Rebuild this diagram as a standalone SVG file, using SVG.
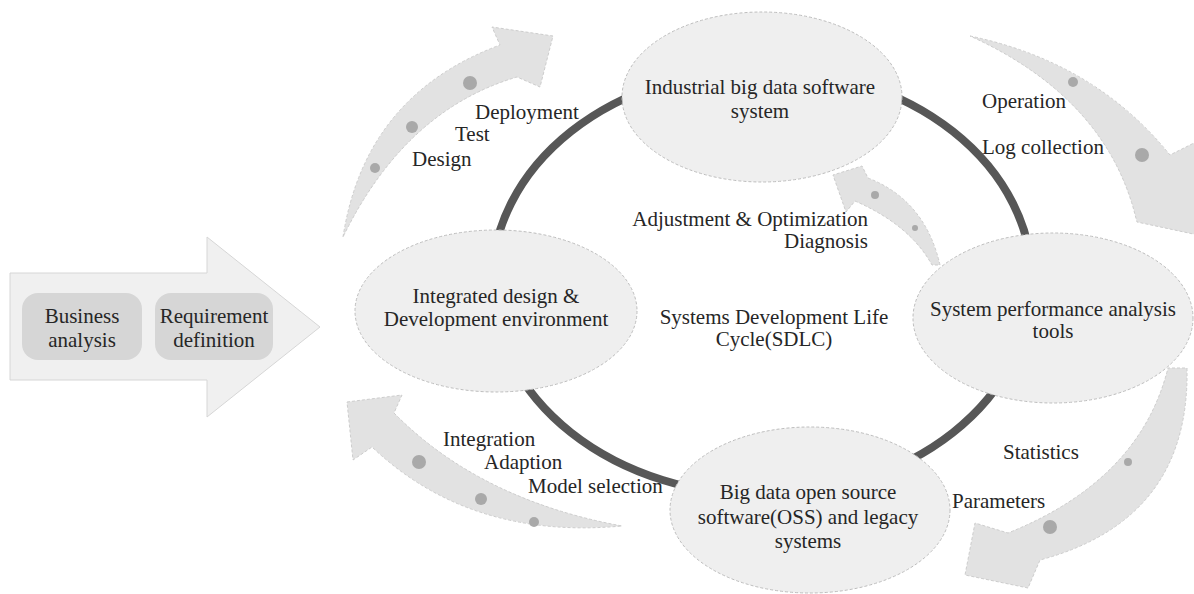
<svg xmlns="http://www.w3.org/2000/svg" width="1194" height="594" viewBox="0 0 1194 594">
  <style>
    text { font-family: "Liberation Serif", "Times New Roman", serif; font-size: 21px; fill: #262626; }
    .mid { text-anchor: middle; }
    .end { text-anchor: end; }
    .node { fill: #efefef; stroke: #bdbdbd; stroke-width: 1; stroke-dasharray: 3 2; }
    .band { fill: #e2e2e2; stroke: #cdcdcd; stroke-width: 1; stroke-dasharray: 3 2; }
    .dot { fill: #a9a9a9; }
    .box { fill: #d6d6d6; }
  </style>

  <rect width="1194" height="594" fill="#ffffff"/>

  <!-- lifecycle ring behind the nodes -->
  <g id="connectors">
    <ellipse id="sdlc-ring" cx="762" cy="282" rx="270" ry="213" fill="none" stroke="#575757" stroke-width="8"/>

    <!-- design / test / deployment -->
    <g id="arrow-deploy">
      <path class="band" d="M343,237 Q365,95 500,45 L492,27 L553,36 L540,87 L517,77 Q405,110 343,237 Z"/>
      <circle class="dot" cx="470" cy="83" r="7"/>
      <circle class="dot" cx="412" cy="127" r="6"/>
      <circle class="dot" cx="375" cy="168" r="5"/>
    </g>

    <!-- operation / log collection -->
    <g id="arrow-operation">
      <path class="band" d="M970,36 Q1095,62 1170,155 L1200,140 L1212,238 L1137,222 L1133,207 Q1100,95 970,36 Z"/>
      <circle class="dot" cx="1073" cy="82" r="5"/>
      <circle class="dot" cx="1142" cy="155" r="7"/>
    </g>

    <!-- diagnosis / adjustment -->
    <g id="arrow-diagnosis">
      <path class="band" d="M940,265 Q925,200 868,178 L862,166 L833,175 L846,212 L855,201 Q910,225 932,265 Z"/>
      <circle class="dot" cx="875" cy="195" r="4"/>
      <circle class="dot" cx="915" cy="228" r="3"/>
    </g>

    <!-- statistics / parameters -->
    <g id="arrow-statistics">
      <path class="band" d="M1187,368 Q1190,520 1040,560 L1028,588 L965,575 L975,523 L1008,533 Q1140,480 1168,368 Z"/>
      <circle class="dot" cx="1128" cy="462" r="4"/>
      <circle class="dot" cx="1050" cy="527" r="7"/>
    </g>

    <!-- integration / adaption / model selection -->
    <g id="arrow-integration">
      <path class="band" d="M347,402 L402,395 L394,413 Q480,500 622,526 Q470,540 372,447 L353,460 Z"/>
      <circle class="dot" cx="419" cy="462" r="7"/>
      <circle class="dot" cx="481" cy="499" r="6"/>
      <circle class="dot" cx="534" cy="522" r="5"/>
    </g>
  </g>

  <!-- front-end phases -->
  <g id="phase-arrow">
    <polygon points="10,273 207,273 207,237 320,327 207,417 207,380 10,380" fill="#f0f0f0" stroke="#d6d6d6" stroke-width="1"/>
    <g id="business-analysis">
      <rect class="box" x="22" y="293" width="120" height="67" rx="16"/>
      <text class="mid" x="82" y="323">Business</text>
      <text class="mid" x="82" y="347">analysis</text>
    </g>
    <g id="requirement-definition">
      <rect class="box" x="155" y="293" width="118" height="67" rx="16"/>
      <text class="mid" x="214" y="323">Requirement</text>
      <text class="mid" x="214" y="347">definition</text>
    </g>
  </g>

  <g id="node-industrial">
    <ellipse class="node" cx="762" cy="97" rx="140" ry="85"/>
    <text class="mid" x="760" y="94">Industrial big data software</text>
    <text class="mid" x="760" y="118">system</text>
  </g>

  <g id="node-ide">
    <ellipse class="node" cx="496" cy="311" rx="141" ry="81"/>
    <text class="mid" x="496" y="303">Integrated design &amp;</text>
    <text class="mid" x="496" y="326">Development environment</text>
  </g>

  <g id="node-perf">
    <ellipse class="node" cx="1053" cy="318" rx="140" ry="85"/>
    <text class="mid" x="1053" y="316">System performance analysis</text>
    <text class="mid" x="1053" y="338">tools</text>
  </g>

  <g id="node-oss">
    <ellipse class="node" cx="810" cy="510" rx="140" ry="83"/>
    <text class="mid" x="808" y="499">Big data open source</text>
    <text class="mid" x="808" y="524">software(OSS) and legacy</text>
    <text class="mid" x="808" y="548">systems</text>
  </g>

  <!-- stage labels -->
  <g id="labels">
    <text x="475" y="119">Deployment</text>
    <text x="455" y="141">Test</text>
    <text x="412" y="166">Design</text>
    <text x="982" y="108">Operation</text>
    <text x="982" y="154">Log collection</text>
    <text class="end" x="868" y="226">Adjustment &amp; Optimization</text>
    <text class="end" x="868" y="248">Diagnosis</text>
    <text class="mid" x="774" y="324">Systems Development Life</text>
    <text class="mid" x="774" y="346">Cycle(SDLC)</text>
    <text x="1003" y="459">Statistics</text>
    <text x="952" y="508">Parameters</text>
    <text x="443" y="446">Integration</text>
    <text x="484" y="469">Adaption</text>
    <text x="528" y="493">Model selection</text>
  </g>
</svg>
